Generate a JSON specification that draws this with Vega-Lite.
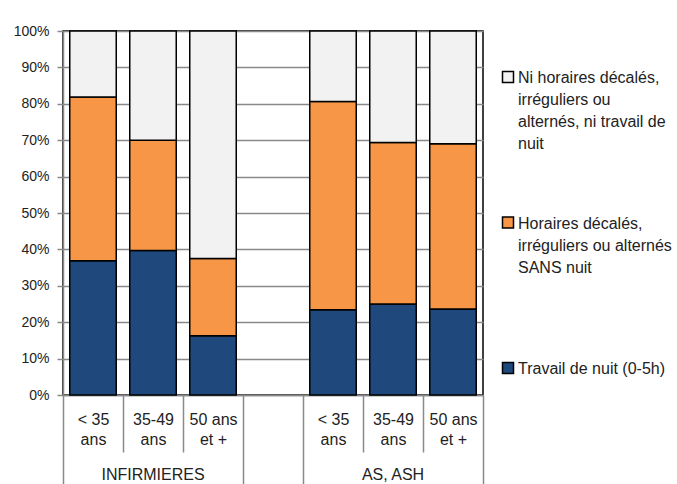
{
  "$schema": "https://vega.github.io/schema/vega-lite/v6.json",
  "autosize": {"type": "none"},
  "padding": {"left": 63, "top": 31, "right": 194, "bottom": 89},
  "width": 420,
  "height": 364,
  "background": "white",
  "config": {
    "view": {"stroke": "black", "strokeWidth": 1.5},
    "font": "Liberation Sans",
    "axis": {"labelFont": "Liberation Sans", "labelColor": "#222222"}
  },
  "data": {
    "values": [
      {"cat": "INFIRMIERES|< 35|ans", "serie": "Travail de nuit (0-5h)", "ordre": 1, "pct": 36.9},
      {"cat": "INFIRMIERES|< 35|ans", "serie": "Horaires décalés,|irréguliers ou alternés|SANS nuit", "ordre": 2, "pct": 45.0},
      {"cat": "INFIRMIERES|< 35|ans", "serie": "Ni horaires décalés,|irréguliers ou|alternés, ni travail de|nuit", "ordre": 3, "pct": 18.1},
      {"cat": "INFIRMIERES|35-49|ans", "serie": "Travail de nuit (0-5h)", "ordre": 1, "pct": 39.7},
      {"cat": "INFIRMIERES|35-49|ans", "serie": "Horaires décalés,|irréguliers ou alternés|SANS nuit", "ordre": 2, "pct": 30.3},
      {"cat": "INFIRMIERES|35-49|ans", "serie": "Ni horaires décalés,|irréguliers ou|alternés, ni travail de|nuit", "ordre": 3, "pct": 30.0},
      {"cat": "INFIRMIERES|50 ans|et +", "serie": "Travail de nuit (0-5h)", "ordre": 1, "pct": 16.3},
      {"cat": "INFIRMIERES|50 ans|et +", "serie": "Horaires décalés,|irréguliers ou alternés|SANS nuit", "ordre": 2, "pct": 21.2},
      {"cat": "INFIRMIERES|50 ans|et +", "serie": "Ni horaires décalés,|irréguliers ou|alternés, ni travail de|nuit", "ordre": 3, "pct": 62.5},
      {"cat": "AS, ASH|< 35|ans", "serie": "Travail de nuit (0-5h)", "ordre": 1, "pct": 23.4},
      {"cat": "AS, ASH|< 35|ans", "serie": "Horaires décalés,|irréguliers ou alternés|SANS nuit", "ordre": 2, "pct": 57.2},
      {"cat": "AS, ASH|< 35|ans", "serie": "Ni horaires décalés,|irréguliers ou|alternés, ni travail de|nuit", "ordre": 3, "pct": 19.4},
      {"cat": "AS, ASH|35-49|ans", "serie": "Travail de nuit (0-5h)", "ordre": 1, "pct": 25.0},
      {"cat": "AS, ASH|35-49|ans", "serie": "Horaires décalés,|irréguliers ou alternés|SANS nuit", "ordre": 2, "pct": 44.4},
      {"cat": "AS, ASH|35-49|ans", "serie": "Ni horaires décalés,|irréguliers ou|alternés, ni travail de|nuit", "ordre": 3, "pct": 30.6},
      {"cat": "AS, ASH|50 ans|et +", "serie": "Travail de nuit (0-5h)", "ordre": 1, "pct": 23.6},
      {"cat": "AS, ASH|50 ans|et +", "serie": "Horaires décalés,|irréguliers ou alternés|SANS nuit", "ordre": 2, "pct": 45.4},
      {"cat": "AS, ASH|50 ans|et +", "serie": "Ni horaires décalés,|irréguliers ou|alternés, ni travail de|nuit", "ordre": 3, "pct": 31.0}
    ]
  },
  "resolve": {"axis": {"x": "independent"}},
  "layer": [
    {
      "mark": {"type": "bar", "stroke": "black", "strokeWidth": 1.5, "width": {"band": 0.775}},
      "encoding": {
        "x": {
          "field": "cat",
          "type": "nominal",
          "scale": {
            "type": "band",
            "domain": ["INFIRMIERES|< 35|ans", "INFIRMIERES|35-49|ans", "INFIRMIERES|50 ans|et +", "|", "AS, ASH|< 35|ans", "AS, ASH|35-49|ans", "AS, ASH|50 ans|et +"],
            "paddingInner": 0,
            "paddingOuter": 0
          },
          "axis": {
            "orient": "bottom",
            "title": null,
            "grid": false,
            "tickBand": "extent",
            "tickSize": {
              "condition": {"test": "!isDefined(datum.value) || indexof(['INFIRMIERES|50 ans|et +', '|', 'AS, ASH|50 ans|et +'], datum.value) >= 0", "value": 95},
              "value": 57
            },
            "labelPadding": {
              "condition": {"test": "indexof(['INFIRMIERES|50 ans|et +', '|', 'AS, ASH|50 ans|et +'], datum.value) >= 0", "value": -79},
              "value": -41
            },
            "tickColor": "#898989",
            "tickWidth": 1.5,
            "domainColor": "#898989",
            "domainWidth": 1.5,
            "labelAngle": 0,
            "labelExpr": "slice(split(datum.value, '|'), 1)",
            "labelFontSize": 16,
            "labelLineHeight": 20,
            "labelBaseline": "top",
            "labelLimit": 0
          }
        },
        "y": {
          "field": "pct",
          "type": "quantitative",
          "stack": "zero",
          "scale": {"domain": [0, 100], "nice": false},
          "axis": {
            "title": null,
            "values": [0, 10, 20, 30, 40, 50, 60, 70, 80, 90, 100],
            "labelExpr": "datum.value + '%'",
            "labelFontSize": 14,
            "labelPadding": 8,
            "tickSize": 6,
            "tickColor": "#898989",
            "tickWidth": 1.5,
            "domainColor": "#898989",
            "domainWidth": 1.5,
            "grid": true,
            "gridColor": "#898989",
            "gridWidth": 1.5
          }
        },
        "color": {
          "field": "serie",
          "type": "nominal",
          "scale": {
            "domain": ["Ni horaires décalés,|irréguliers ou|alternés, ni travail de|nuit", "Horaires décalés,|irréguliers ou alternés|SANS nuit", "Travail de nuit (0-5h)"],
            "range": ["#F2F2F2", "#F79646", "#1F497D"]
          },
          "legend": {
            "orient": "none",
            "legendX": 437,
            "legendY": 38,
            "title": null,
            "padding": 0,
            "symbolType": "square",
            "symbolSize": 121,
            "symbolStrokeColor": "black",
            "symbolStrokeWidth": 1.5,
            "labelFont": "Liberation Sans",
            "labelFontSize": 16,
            "labelColor": "#222222",
            "labelExpr": "split(datum.value, '|')",
            "labelBaseline": "top",
            "labelOffset": 2,
            "labelLimit": 0,
            "gridAlign": "all",
            "rowPadding": 61.5,
            "encode": {"labels": {"update": {"lineHeight": {"value": 22}, "dy": {"value": -7}}}}
          }
        },
        "order": {"field": "ordre", "type": "quantitative"}
      }
    },
    {
      "mark": {"type": "bar", "opacity": 0},
      "encoding": {
        "x": {
          "field": "cat",
          "type": "nominal",
          "axis": {
            "orient": "bottom",
            "title": null,
            "grid": false,
            "domain": false,
            "ticks": false,
            "values": ["INFIRMIERES|35-49|ans", "AS, ASH|35-49|ans"],
            "labelAngle": 0,
            "labelExpr": "split(datum.value, '|')[0]",
            "labelFontSize": 16,
            "labelBaseline": "top",
            "labelPadding": 71,
            "labelLimit": 0
          }
        }
      }
    }
  ]
}
